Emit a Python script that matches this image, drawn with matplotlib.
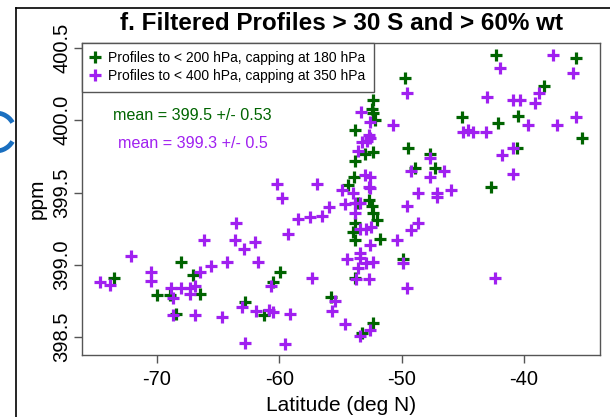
import matplotlib
matplotlib.use("Agg")
import matplotlib.pyplot as plt
from matplotlib.lines import Line2D
from matplotlib.patches import Arc

plt.rcParams['font.family'] = ['Liberation Sans', 'DejaVu Sans']

# Profiles to < 200 hPa, capping at 180 hPa (green)
green_lat = [-42.3, -35.8, -49.7, -38.4, -52.3, -52.4, -52.3, -52.2, -45.1, -42.1,
             -40.5, -35.3, -53.8, -49.5, -52.3, -53.0, -53.8, -47.7, -47.3, -48.9,
             -40.6, -53.9, -54.4, -42.7, -52.7, -52.4, -53.6, -52.3, -52.0, -53.8,
             -54.0, -53.8, -51.8, -49.9, -53.8, -55.8, -52.3, -53.2, -73.5, -68.0,
             -67.0, -70.0, -68.9, -66.5, -68.4, -62.8, -61.2, -59.9, -60.5]
green_ppm = [400.45, 400.43, 400.29, 400.24, 400.14, 400.08, 400.05, 400.00, 400.02, 399.98,
             400.03, 399.88, 399.93, 399.81, 399.78, 399.77, 399.72, 399.77, 399.67, 399.67,
             399.81, 399.61, 399.55, 399.54, 399.45, 399.41, 399.43, 399.36, 399.31, 399.29,
             399.23, 399.17, 399.18, 399.04, 398.91, 398.78, 398.60, 398.53, 398.91, 399.02,
             398.93, 398.79, 398.79, 398.80, 398.66, 398.74, 398.65, 398.95, 398.88]

# Profiles to < 400 hPa, capping at 350 hPa (purple)
purple_lat = [-37.6, -42.0, -36.0, -49.6, -38.8, -39.1, -43.0, -40.9, -40.3, -53.3,
              -52.6, -50.7, -39.7, -37.3, -35.8, -45.0, -44.6, -44.2, -43.1, -52.7,
              -52.6, -52.8, -53.2, -53.6, -47.7, -41.8, -40.9, -49.2, -47.7, -46.5,
              -40.9, -56.9, -54.9, -54.0, -53.0, -52.6, -52.7, -52.6, -48.7, -47.1,
              -47.1, -46.0, -49.6, -55.9, -54.6, -53.8, -53.4, -57.5, -56.5, -58.5,
              -53.8, -48.7, -49.2, -53.4, -52.9, -52.5, -50.4, -52.6, -53.4, -53.4,
              -54.5, -52.9, -52.3, -49.9, -53.6, -57.3, -53.7, -52.7, -49.6, -42.4,
              -55.4, -55.7, -54.6, -52.6, -53.4, -60.2, -59.8, -63.5, -59.3, -66.1,
              -63.6, -62.0, -62.9, -72.1, -64.3, -61.7, -65.6, -70.5, -70.5, -66.5,
              -74.6, -73.8, -60.7, -68.8, -68.0, -67.3, -66.9, -67.3, -68.7, -63.0,
              -61.9, -60.8, -60.5, -59.1, -68.7, -66.9, -64.7, -62.8, -59.5]
purple_ppm = [400.45, 400.36, 400.33, 400.19, 400.19, 400.12, 400.16, 400.14, 400.14, 400.06,
              399.99, 399.97, 399.97, 399.97, 400.02, 399.92, 399.93, 399.92, 399.92, 399.90,
              399.88, 399.86, 399.85, 399.79, 399.74, 399.76, 399.81, 399.65, 399.61, 399.65,
              399.63, 399.56, 399.52, 399.50, 399.62, 399.61, 399.54, 399.53, 399.50, 399.50,
              399.47, 399.52, 399.41, 399.40, 399.42, 399.43, 399.43, 399.33, 399.34, 399.32,
              399.36, 399.29, 399.24, 399.25, 399.25, 399.26, 399.17, 399.14, 399.08, 399.05,
              399.04, 399.01, 399.02, 399.01, 398.98, 398.91, 398.90, 398.90, 398.84, 398.91,
              398.75, 398.68, 398.59, 398.55, 398.51, 399.56, 399.46, 399.29, 399.21, 399.17,
              399.17, 399.16, 399.11, 399.06, 399.02, 399.02, 398.99, 398.95, 398.89, 398.95,
              398.88, 398.86, 398.85, 398.84, 398.84, 398.84, 398.85, 398.80, 398.77, 398.71,
              398.68, 398.69, 398.67, 398.66, 398.65, 398.65, 398.64, 398.46, 398.45]

x_ticks = [-70, -60, -50, -40]
y_ticks = [398.5, 399.0, 399.5, 400.0, 400.5]
y_ticklabels = ["398.5", "399.0", "399.5", "400.0", "400.5"]

title = "f. Filtered Profiles > 30 S and > 60% wt"
legend_labels = ["Profiles to < 200 hPa, capping at 180 hPa",
                 "Profiles to < 400 hPa, capping at 350 hPa"]
mean_texts = ["mean = 399.5 +/- 0.53", "mean = 399.3 +/- 0.5"]

GREEN = "#006400"
PURPLE = "#A020F0"
GRAY = "#555555"

W, H = 610, 417
fig = plt.figure(figsize=(W / 100, H / 100), dpi=100)
ax = fig.add_axes([82 / W, 1 - 355 / H, (600 - 82) / W, (355 - 43) / H])

ms, mew = 9, 2.3
ax.plot(green_lat, green_ppm, linestyle='none', marker='+', color=GREEN,
        markersize=ms, markeredgewidth=mew)
ax.plot(purple_lat, purple_ppm, linestyle='none', marker='+', color=PURPLE,
        markersize=ms, markeredgewidth=mew)

ax.set_xlim(-76.1, -33.8)
ax.set_ylim(398.375, 400.535)
ax.set_xticks(x_ticks)
ax.set_xticklabels([str(t) for t in x_ticks])
ax.set_yticks(y_ticks)
ax.set_yticklabels(y_ticklabels, rotation=90, va='center')

for s in ax.spines.values():
    s.set_color(GRAY)
    s.set_linewidth(1.0)
ax.tick_params(axis='both', colors=GRAY, labelcolor='black', length=6, width=1.0,
               labelsize=14.5)
ax.tick_params(axis='x', pad=5)
ax.tick_params(axis='y', pad=1.5)

ax.set_xlabel("Latitude (deg N)", fontsize=15, labelpad=5)
ax.set_ylabel("ppm", fontsize=15, labelpad=4)

fig.text(341 / W, 1 - 23 / H, title, fontsize=17.5, fontweight='bold',
         ha='center', va='center')

handles = [Line2D([], [], linestyle='none', marker='+', color=GREEN, markersize=8.5, markeredgewidth=2.3),
           Line2D([], [], linestyle='none', marker='+', color=PURPLE, markersize=8.5, markeredgewidth=2.3)]
leg = ax.legend(handles, legend_labels, loc='upper left', bbox_to_anchor=(0, 1),
                borderaxespad=0, fontsize=10.0, fancybox=False, frameon=True,
                handlelength=0.6, handletextpad=0.7, borderpad=0.6,
                labelspacing=0.28, edgecolor=GRAY, framealpha=1)
leg.get_frame().set_linewidth(1.0)

fig.text(192 / W, 1 - 115 / H, mean_texts[0], color=GREEN, fontsize=11.6,
         ha='center', va='center')
fig.text(193 / W, 1 - 143 / H, mean_texts[1], color=PURPLE, fontsize=11.6,
         ha='center', va='center')

# outer slide frame and partial blue letter at the left edge
fig.add_artist(Line2D([16 / W, 16 / W], [0, 1 - 8 / H], color='black', linewidth=1.2))
fig.add_artist(Line2D([16 / W, 1], [1 - 8 / H, 1 - 8 / H], color='black', linewidth=1.2))
fig.add_artist(Arc((-4 / W, 1 - 132 / H), 38 / W, 38 / H, theta1=40, theta2=320,
                   transform=fig.transFigure, color="#1a6fc0", linewidth=3.4))

fig.savefig("out.png", dpi=100)
